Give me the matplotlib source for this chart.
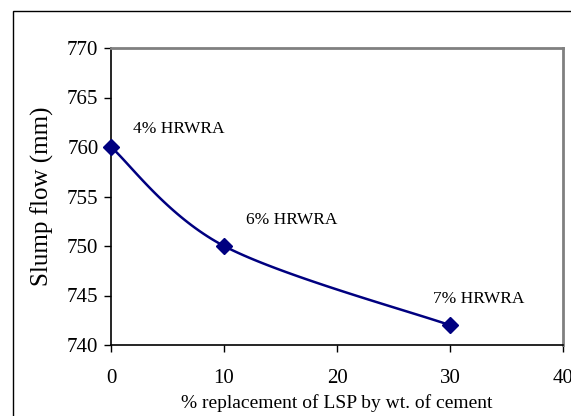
import numpy as np
import matplotlib.pyplot as plt
from matplotlib.patches import Rectangle

plt.rcParams['font.family'] = ['Liberation Serif', 'DejaVu Serif']

# data
lsp_pct = [0, 10, 30]
slump_flow = [760, 750, 742]
labels = ['4% HRWRA', '6% HRWRA', '7% HRWRA']
label_offsets = [(16, 13), (16, 19), (-12, 19)]  # points

x_lim = (0, 40)
y_lim = (740, 770)


def smooth_curve(xs, ys, n=40):
    # Excel-like smoothed line: cubic bezier with catmull-rom control points,
    # computed in axis-normalised space so the curve shape matches the scales
    sx = (x_lim[1] - x_lim[0])
    sy = (y_lim[1] - y_lim[0])
    p = np.column_stack([(np.array(xs) - x_lim[0]) / sx, (np.array(ys) - y_lim[0]) / sy])
    pts = np.vstack([p[0], p, p[-1]])
    out = []
    t = np.linspace(0, 1, n)[:, None]
    for i in range(1, len(pts) - 2):
        p0, p1, p2, p3 = pts[i - 1], pts[i], pts[i + 1], pts[i + 2]
        c1 = p1 + (p2 - p0) / 6
        c2 = p2 - (p3 - p1) / 6
        seg = ((1 - t) ** 3) * p1 + 3 * ((1 - t) ** 2) * t * c1 + 3 * (1 - t) * t ** 2 * c2 + t ** 3 * p2
        out.append(seg)
    out = np.vstack(out)
    return out[:, 0] * sx + x_lim[0], out[:, 1] * sy + y_lim[0]


fig = plt.figure(figsize=(5.71, 4.16), dpi=100)
# outer chart border (clipped at right/bottom like the source)
fig.patches.append(Rectangle((13 / 571, -0.01), 1.0, 1 - 11 / 416 + 0.01, transform=fig.transFigure,
                             fill=False, edgecolor='black', linewidth=1.0))

ax = fig.add_axes([111 / 571, 1 - 345 / 416, (563 - 111) / 571, (345 - 48) / 416])

cx, cy = smooth_curve(lsp_pct, slump_flow)
ax.plot(cx, cy, color='#000080', linewidth=1.8, clip_on=False)
ax.plot(lsp_pct, slump_flow, linestyle='none', marker='D', markersize=8.5,
        color='#000080', clip_on=False, zorder=3)

for xv, yv, lab, off in zip(lsp_pct, slump_flow, labels, label_offsets):
    ax.annotate(lab, (xv, yv), xytext=off, textcoords='offset points',
                ha='left', va='center', fontsize=12.5)

ax.set_xlim(*x_lim)
ax.set_ylim(*y_lim)
ax.set_xticks([0, 10, 20, 30, 40])
ax.set_yticks([740, 745, 750, 755, 760, 765, 770])
ax.tick_params(direction='out', length=5, width=1, labelsize=15, pad=4)
ax.tick_params(axis='x', pad=12)

for s in ['left', 'bottom']:
    ax.spines[s].set_color('black')
    ax.spines[s].set_linewidth(1.2)
for s in ['top', 'right']:
    ax.spines[s].set_color('#808080')
    ax.spines[s].set_linewidth(2)

ax.set_xlabel('% replacement of LSP by wt. of cement', fontsize=14, labelpad=5)
ax.set_ylabel('Slump flow (mm)', fontsize=18, labelpad=9)

fig.savefig('out.png', dpi=100)
